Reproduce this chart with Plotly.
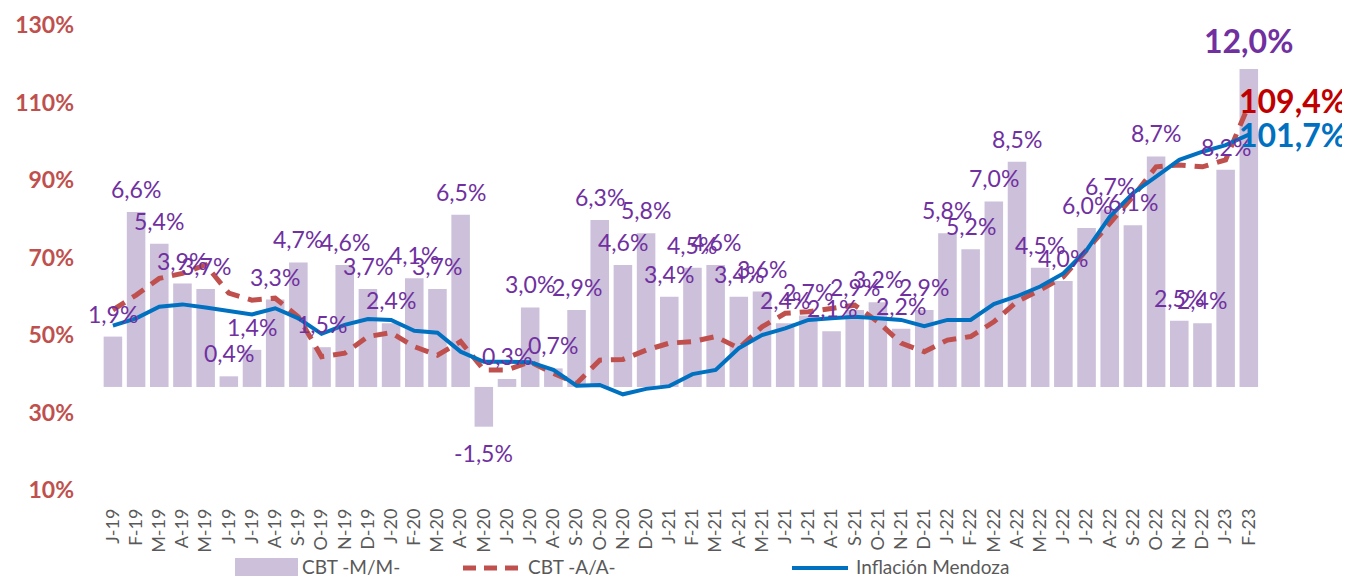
import plotly.graph_objects as go

# ---------------- data ----------------
months = ["J-19", "F-19", "M-19", "A-19", "M-19", "J-19", "J-19", "A-19", "S-19", "O-19", "N-19", "D-19",
          "J-20", "F-20", "M-20", "A-20", "M-20", "J-20", "J-20", "A-20", "S-20", "O-20", "N-20", "D-20",
          "J-21", "F-21", "M-21", "A-21", "M-21", "J-21", "J-21", "A-21", "S-21", "O-21", "N-21", "D-21",
          "J-22", "F-22", "M-22", "A-22", "M-22", "J-22", "J-22", "A-22", "S-22", "O-22", "N-22", "D-22",
          "J-23", "F-23"]

cbt_mm = [1.9, 6.6, 5.4, 3.9, 3.7, 0.4, 1.4, 3.3, 4.7, 1.5, 4.6, 3.7,
          2.4, 4.1, 3.7, 6.5, -1.5, 0.3, 3.0, 0.7, 2.9, 6.3, 4.6, 5.8,
          3.4, 4.5, 4.6, 3.4, 3.6, 2.4, 2.7, 2.1, 2.9, 3.2, 2.2, 2.9,
          5.8, 5.2, 7.0, 8.5, 4.5, 4.0, 6.0, 6.7, 6.1, 8.7, 2.5, 2.4,
          8.2, 12.0]

cbt_aa = [56.5, 60.3, 64.6, 65.9, 68.1, 60.8, 59.0, 59.5, 54.7, 44.4, 45.3, 49.6,
          50.6, 47.0, 44.8, 48.3, 41.0, 41.0, 43.1, 40.1, 37.5, 43.5, 43.7, 46.1,
          47.9, 48.3, 49.6, 46.6, 52.1, 55.6, 56.0, 56.9, 57.7, 53.4, 47.9, 45.7,
          48.7, 49.6, 53.4, 58.6, 61.6, 65.0, 71.9, 78.8, 85.7, 93.4, 93.9, 93.4,
          95.2, 109.4]

infl_mza = [52.4, 54.3, 57.3, 57.9, 57.1, 56.3, 55.3, 56.9, 54.3, 50.3, 52.6, 54.1,
            53.9, 51.1, 50.6, 45.7, 43.1, 43.1, 43.0, 41.0, 36.9, 37.1, 34.7, 36.1,
            36.8, 39.9, 41.0, 46.6, 50.0, 51.7, 53.9, 54.3, 54.7, 54.3, 53.9, 52.3,
            53.9, 53.9, 58.0, 60.0, 62.5, 65.9, 71.9, 80.5, 86.6, 90.9, 95.2, 97.3,
            99.0, 101.7]

y_ticks = [10, 30, 50, 70, 90, 110, 130]
y_tick_text = ["10%", "30%", "50%", "70%", "90%", "110%", "130%"]

# ---------------- styling ----------------
FONT = "Lato"
PURPLE = "#7030A0"
BAR = "#CCC0DA"
RED = "#C0504D"
BLUE = "#0070C0"
GRAY = "#595959"

OFF = 8  # page body margin in the browser
W, H = 1350 - OFF, 576 - OFF
# plot-area edges in screen pixels
L, R, T, B = 99, 1272, 25, 490


def px(xs):
    return (xs - L) / (R - L)


def py(ys):
    return (B - ys) / (B - T)


def fmt(v):
    return f"{v:.1f}".replace(".", ",") + "%"


x = list(range(len(months)))
n = len(months)

fig = go.Figure()
fig.add_trace(go.Bar(
    x=x, y=cbt_mm, name="CBT -M/M-", marker_color=BAR, marker_line_width=0,
    yaxis="y", showlegend=False,
))
fig.add_trace(go.Scatter(
    x=x, y=cbt_aa, name="CBT -A/A-", mode="lines",
    line=dict(color=RED, width=5, dash="14px,9px"),
    yaxis="y2", showlegend=False,
))
fig.add_trace(go.Scatter(
    x=x, y=infl_mza, name="Inflación Mendoza", mode="lines",
    line=dict(color=BLUE, width=4),
    yaxis="y2", showlegend=False,
))

annotations = []
# bar data labels
for i, v in enumerate(cbt_mm):
    last = (i == n - 1)
    txt = "<b>" + fmt(v) + "</b>" if last else fmt(v)
    annotations.append(dict(
        x=x[i], y=v, xref="x", yref="y", text=txt, showarrow=False,
        xanchor="center", yanchor="bottom" if v >= 0 else "top",
        yshift=7 if v >= 0 else -10,
        font=dict(family=FONT, size=32 if last else 23, color=PURPLE),
    ))

annotations += [
    dict(x=x[-1], y=cbt_aa[-1], xref="x", yref="y2", text="<b>" + fmt(cbt_aa[-1]) + "</b>",
         showarrow=False, xanchor="left", yanchor="middle", xshift=-12, yshift=4,
         font=dict(family=FONT, size=32, color="#C00000")),
    dict(x=x[-1], y=infl_mza[-1], xref="x", yref="y2", text="<b>" + fmt(infl_mza[-1]) + "</b>",
         showarrow=False, xanchor="left", yanchor="middle", xshift=-12, yshift=0,
         font=dict(family=FONT, size=32, color=BLUE)),
]

# custom legend (bottom)
shapes = [
    dict(type="rect", xref="paper", yref="paper", x0=px(235), x1=px(298), y0=py(580), y1=py(558),
         fillcolor=BAR, line_width=0),
    dict(type="line", xref="paper", yref="paper", x0=px(463), x1=px(518), y0=py(568), y1=py(568),
         line=dict(color=RED, width=5, dash="13px,8px")),
    dict(type="line", xref="paper", yref="paper", x0=px(792), x1=px(848), y0=py(568), y1=py(568),
         line=dict(color=BLUE, width=4)),
]
for tx, label in [(300, "CBT -M/M-"), (526, "CBT -A/A-"), (854, "Inflación Mendoza")]:
    annotations.append(dict(x=px(tx), y=py(566), xref="paper", yref="paper", text=label,
                            showarrow=False, xanchor="left", yanchor="middle",
                            font=dict(family=FONT, size=19, color=GRAY)))

fig.update_layout(
    width=W, height=H,
    margin=dict(l=L - OFF, r=W - (R - OFF), t=T - OFF, b=H - (B - OFF)),
    paper_bgcolor="white", plot_bgcolor="white",
    bargap=0.2,
    font=dict(family=FONT),
    xaxis=dict(range=[-0.6, 50], tickmode="array", tickvals=x, ticktext=months,
               tickangle=-90, tickfont=dict(family=FONT, size=18, color=GRAY),
               showgrid=False, zeroline=False, showline=False, ticks="",
               ticklabelstandoff=14, automargin=False),
    yaxis=dict(range=[-3.89, 13.66], visible=False, showgrid=False, zeroline=False,
               automargin=False),
    yaxis2=dict(range=[10, 130], overlaying="y", side="left", tickmode="array",
                tickvals=y_ticks, ticktext=y_tick_text,
                tickfont=dict(family=FONT, size=23, color=RED, weight="bold"),
                showgrid=False, zeroline=False, showline=False, ticks="",
                ticklabelstandoff=24, automargin=False),
    annotations=annotations,
    shapes=shapes,
)

fig.write_html("out.html")
